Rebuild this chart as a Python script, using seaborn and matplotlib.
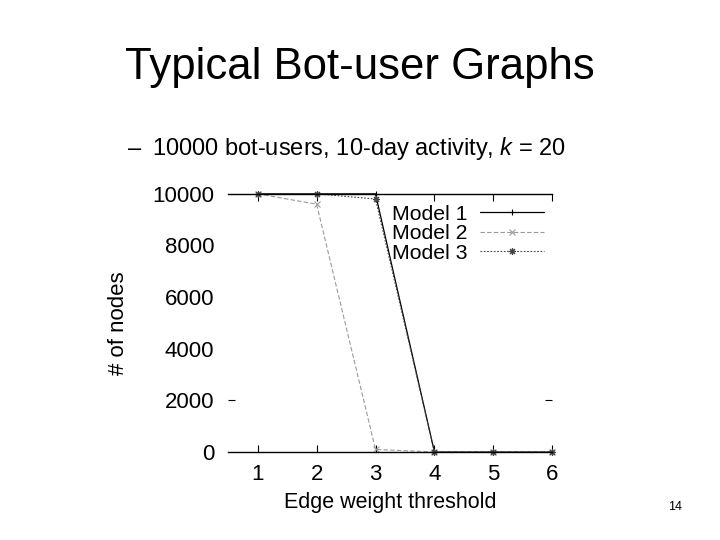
import pandas as pd
import matplotlib
matplotlib.use("Agg")
import matplotlib.pyplot as plt
import seaborn as sns

# data
thresholds = [1, 2, 3, 4, 5, 6]
model1 = [10000, 10000, 10000, 0, 0, 0]
model2 = [10000, 9600, 100, 0, 0, 0]
model3 = [10000, 10000, 9800, 0, 0, 0]
y_ticks = [0, 2000, 4000, 6000, 8000, 10000]

df = pd.DataFrame({
    "threshold": thresholds * 3,
    "nodes": model1 + model2 + model3,
    "model": ["Model 1"] * 6 + ["Model 2"] * 6 + ["Model 3"] * 6,
})

sns.set_style("white")
plt.rcParams["font.family"] = ["Liberation Sans", "DejaVu Sans"]
plt.rcParams["mathtext.fontset"] = "custom"
plt.rcParams["mathtext.rm"] = "Liberation Sans"
plt.rcParams["mathtext.it"] = "Liberation Sans:italic"
for key in ["text.color", "axes.labelcolor", "xtick.color", "ytick.color"]:
    plt.rcParams[key] = "black"

fig = plt.figure(figsize=(7.2, 5.4), dpi=100)
ax = fig.add_axes([0.317, 0.163, 0.45, 0.478])

styles = {
    "Model 1": dict(color="black", linestyle="-", marker="+", lw=0.9),
    "Model 2": dict(color="#9a9a9a", linestyle=(0, (4, 2)), marker="x", lw=0.8),
    "Model 3": dict(color="#444444", linestyle=(0, (1.5, 1.5)), marker=(8, 2, 0), lw=0.8),
}
for name, st in styles.items():
    sub = df[df["model"] == name]
    sns.lineplot(data=sub, x="threshold", y="nodes", ax=ax, label=name,
                 color=st["color"], linestyle=st["linestyle"], marker=st["marker"],
                 markersize=5, markeredgewidth=0.8, linewidth=st["lw"],
                 markeredgecolor=st["color"], clip_on=False)

ax.set_xlim(0.5, 6.0)
ax.set_ylim(0, 10000)
ax.set_xticks(thresholds)
ax.set_yticks(y_ticks)
ax.set_yticks([2000], minor=True)
ax.yaxis.remove_overlapping_locs = False
ax.tick_params(axis="x", which="major", direction="in", length=5, width=0.8,
               top=True, bottom=True, labelsize=16, pad=9, color="black")
ax.tick_params(axis="y", which="major", length=0, labelsize=16, pad=10)
ax.tick_params(axis="y", which="minor", direction="in", length=5, width=0.8,
               left=True, right=True, color="black")

for s in ["left", "right"]:
    ax.spines[s].set_visible(False)
for s in ["top", "bottom"]:
    ax.spines[s].set_visible(True)
    ax.spines[s].set_color("black")
    ax.spines[s].set_linewidth(1.0)

ax.set_xlabel("Edge weight threshold", fontsize=15.5, labelpad=5)
ax.set_ylabel("# of nodes", fontsize=16, labelpad=17)

leg = ax.legend(loc="upper right", frameon=False, markerfirst=False,
                fontsize=15.3, handlelength=3.0, labelspacing=0.02,
                handletextpad=0.6, borderaxespad=0.3, bbox_to_anchor=(1.02, 1.015))

fig.text(0.5, 0.875, "Typical Bot-user Graphs", ha="center", va="center", fontsize=31.5)
fig.text(0.178, 0.725, "–", ha="left", va="center", fontsize=17)
fig.text(0.211, 0.725, "10000 bot-users, 10-day activity, $k$ = 20",
         ha="left", va="center", fontsize=17)
fig.text(0.928, 0.061, "14", ha="left", va="center", fontsize=9)

fig.savefig("out.png", dpi=100, facecolor="white")
